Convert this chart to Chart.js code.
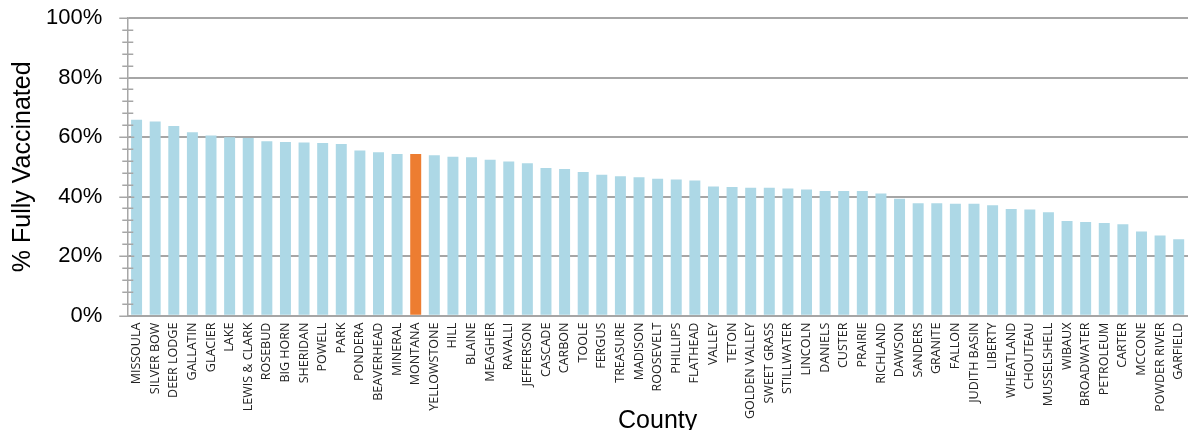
<!DOCTYPE html>
<html>
<head>
<meta charset="utf-8">
<script src="https://cdn.jsdelivr.net/npm/chart.js@4/dist/chart.umd.min.js"></script>
<style>
  html, body { margin:0; padding:0; background:#fff; overflow:hidden; }
  #wrap { width:1188px; height:430px; }
</style>
</head>
<body>
<div id="wrap"><canvas id="chart"></canvas></div>
<script>
// counties, sorted by % fully vaccinated
const counties = [
  "MISSOULA","SILVER BOW","DEER LODGE","GALLATIN","GLACIER","LAKE","LEWIS & CLARK",
  "ROSEBUD","BIG HORN","SHERIDAN","POWELL","PARK","PONDERA","BEAVERHEAD","MINERAL",
  "MONTANA","YELLOWSTONE","HILL","BLAINE","MEAGHER","RAVALLI","JEFFERSON","CASCADE",
  "CARBON","TOOLE","FERGUS","TREASURE","MADISON","ROOSEVELT","PHILLIPS","FLATHEAD",
  "VALLEY","TETON","GOLDEN VALLEY","SWEET GRASS","STILLWATER","LINCOLN","DANIELS",
  "CUSTER","PRAIRIE","RICHLAND","DAWSON","SANDERS","GRANITE","FALLON","JUDITH BASIN",
  "LIBERTY","WHEATLAND","CHOUTEAU","MUSSELSHELL","WIBAUX","BROADWATER","PETROLEUM",
  "CARTER","MCCONE","POWDER RIVER","GARFIELD"
];
const pctVaccinated = [
  65.8,65.2,63.7,61.6,60.5,59.9,59.7,
  58.6,58.3,58.2,58.0,57.7,55.5,54.9,54.3,
  54.3,53.9,53.4,53.2,52.4,51.8,51.2,49.6,
  49.3,48.3,47.3,46.8,46.5,46.0,45.7,45.4,
  43.4,43.2,43.0,43.0,42.7,42.4,41.9,
  41.9,41.9,41.0,39.3,37.8,37.8,37.6,37.6,
  37.1,35.8,35.7,34.7,31.8,31.5,31.1,
  30.7,28.3,26.9,25.7
];
const stateName = "MONTANA";

const barBlue = "#add8e6";
const barOrange = "#ed7d31";
const gridGray = "#a6a6a6";

// y tick marks drawn across the axis line (major every 20, minor every 4)
const crossTicks = {
  id: "crossTicks",
  afterDraw(chart){
    const y = chart.scales.y, c = chart.ctx;
    const x0 = y.right;
    c.save();
    c.strokeStyle = gridGray;
    c.lineWidth = 1.5;
    y.ticks.forEach(t=>{
      const py = Math.round(y.getPixelForValue(t.value)) + 0.25;
      const major = t.value % 20 === 0;
      c.beginPath();
      c.moveTo(x0 - (major ? 8 : 5), py);
      c.lineTo(x0 + (major ? 7 : 6), py);
      c.stroke();
    });
    c.restore();
  }
};

new Chart(document.getElementById("chart"), {
  type: "bar",
  data: {
    labels: counties,
    datasets: [{
      data: pctVaccinated,
      backgroundColor: counties.map(c => c === stateName ? barOrange : barBlue),
      barPercentage: 0.59,
      categoryPercentage: 1.0
    }]
  },
  options: {
    responsive: true,
    maintainAspectRatio: false,
    animation: false,
    layout: { padding: { top: 18, right: -3, left: 0, bottom: -6 } },
    plugins: { legend: { display:false }, tooltip: { enabled:false } },
    scales: {
      x: {
        afterFit: s => { s.paddingRight = 0; },
        grid: { display:false, drawTicks:false },
        border: { color: gridGray, width: 1.5 },
        ticks: {
          autoSkip: false,
          maxRotation: 90,
          minRotation: 90,
          padding: 7,
          color: "#222",
          font: { family: "Open Sans", size: 12.5 }
        },
        title: {
          display: true,
          text: "County",
          color: "#000",
          font: { family: "Liberation Sans", size: 25 },
          padding: { top: -20, bottom: 0 }
        }
      },
      y: {
        min: 0,
        max: 100,
        afterFit: s => { s.paddingTop = 0; },
        border: { color: gridGray, width: 1.5 },
        grid: {
          color: ctx => ctx.tick && ctx.tick.value % 20 === 0 ? gridGray : "rgba(0,0,0,0)",
          tickColor: "rgba(0,0,0,0)",
          lineWidth: 2,
          tickLength: 23,
          drawTicks: true
        },
        ticks: {
          stepSize: 4,
          autoSkip: false,
          padding: 2,
          color: "#000",
          font: { family: "Liberation Sans", size: 22 },
          callback: v => v % 20 === 0 ? v + "%" : ""
        },
        title: {
          display: true,
          text: "% Fully Vaccinated",
          color: "#000",
          font: { family: "Liberation Sans", size: 25 },
          padding: { top: 8, bottom: 6 }
        }
      }
    }
  },
  plugins: [crossTicks]
});
</script>
</body>
</html>
